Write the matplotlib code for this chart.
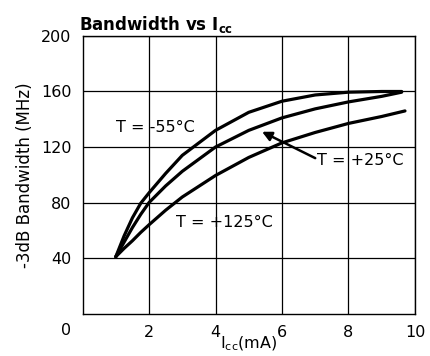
import numpy as np
import matplotlib
matplotlib.use("Agg")
import matplotlib.pyplot as plt

plt.rcParams['font.family'] = ['DejaVu Sans']
plt.rcParams['mathtext.fontset'] = 'dejavusans'
plt.rcParams['mathtext.default'] = 'regular'

# supply current (mA) and -3dB bandwidth (MHz)
icc_cold = [1.0, 1.25, 1.5, 1.75, 2.0, 2.5, 3.0, 4.0, 5.0, 6.0, 7.0, 8.0, 9.0, 9.6]
bw_cold = [41, 56, 69, 79.5, 87, 101, 114, 132, 145, 153, 157.5, 159.5, 160, 160]

icc_room = [1.0, 1.25, 1.5, 1.75, 2.0, 2.5, 3.0, 4.0, 5.0, 6.0, 7.0, 8.0, 9.0, 9.6]
bw_room = [41, 51.5, 62, 71.5, 80, 92, 102.5, 120, 132, 141, 147.5, 152.5, 156.5, 159.5]

icc_hot = [1.0, 1.25, 1.5, 1.75, 2.0, 2.5, 3.0, 4.0, 5.0, 6.0, 7.0, 8.0, 9.0, 9.7]
bw_hot = [41, 47, 52.5, 58.5, 64, 74.5, 84, 99.5, 112.5, 123, 130.5, 137, 142, 146]

xticks = [2, 4, 6, 8, 10]
yticks = [40, 80, 120, 160, 200]

fig = plt.figure(figsize=(4.3, 3.56), dpi=100)
ax = fig.add_axes([0.192, 0.119, 0.773, 0.78])

lw = 2.3
ax.plot(icc_cold, bw_cold, color='black', lw=lw, solid_capstyle='round')
ax.plot(icc_room, bw_room, color='black', lw=lw, solid_capstyle='round')
ax.plot(icc_hot, bw_hot, color='black', lw=lw, solid_capstyle='round')

ax.set_xlim(0, 10)
ax.set_ylim(0, 200)
ax.set_xticks(xticks)
ax.set_yticks(yticks)
ax.tick_params(length=0, labelsize=11.5, pad=8)
ax.grid(True, color='black', lw=0.9)
for s in ax.spines.values():
    s.set_linewidth(1.0)

# corner zero shared by both axes
ax.text(-0.5, -12, '0', fontsize=11.5, ha='center', va='center', clip_on=False)

ax.set_ylabel('-3dB Bandwidth (MHz)', fontsize=12, labelpad=5)
ax.set_xlabel(r'I$_{cc}$(mA)', fontsize=11.5, labelpad=-4)
ax.set_title(r'Bandwidth vs $\mathbf{I_{cc}}$', fontsize=12, fontweight='bold',
             loc='left', x=-0.01, pad=4)

ax.text(1.0, 134, 'T = -55°C', fontsize=11.5, va='center', ha='left')
ax.text(2.8, 66, 'T = +125°C', fontsize=11.5, va='center', ha='left')
ax.text(7.05, 110, 'T = +25°C', fontsize=11.5, va='center', ha='left')
ax.annotate('', xy=(5.4, 131), xytext=(7.0, 112),
            arrowprops=dict(arrowstyle='-|>', color='black', lw=1.8,
                            mutation_scale=14, shrinkA=0, shrinkB=0))

fig.savefig('out.png', dpi=100)
